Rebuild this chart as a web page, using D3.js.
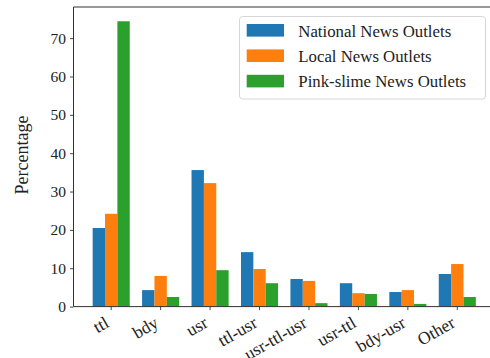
<!DOCTYPE html>
<html>
<head>
<meta charset="utf-8">
<script src="https://cdn.jsdelivr.net/npm/d3@7"></script>
<style>
  html, body { margin: 0; padding: 0; background: #fff; }
  svg { display: block; }
  svg text { font-family: "Liberation Serif", "Times New Roman", serif; fill: #222; }
</style>
</head>
<body>
<svg id="chart" width="490" height="358"></svg>
<script>
// Share of headline-edit types, by outlet group (percent)
const categories = ["ttl", "bdy", "usr", "ttl-usr", "usr-ttl-usr", "usr-ttl", "bdy-usr", "Other"];
const seriesNames = ["National News Outlets", "Local News Outlets", "Pink-slime News Outlets"];
const national = [20.5, 4.3, 35.6, 14.2, 7.2, 6.1, 3.8, 8.5];
const local    = [24.2, 8.0, 32.2, 9.8, 6.7, 3.5, 4.3, 11.1];
const pinkSlime = [74.4, 2.5, 9.5, 6.1, 0.9, 3.3, 0.7, 2.5];
const yTicks = [0, 10, 20, 30, 40, 50, 60, 70];
const colors = ["#1f77b4", "#ff7f0e", "#2ca02c"];

const series = [national, local, pinkSlime];
const svg = d3.select("#chart");
const serif = '"Liberation Serif", "Times New Roman", serif';

const plot = { left: 73.5, right: 495, top: 7, bottom: 306.6 };

const x0 = d3.scaleBand()
  .domain(categories)
  .range([plot.left, plot.right])
  .paddingInner(0.25)
  .paddingOuter(0.3875);

const x1 = d3.scaleBand()
  .domain(seriesNames)
  .range([0, x0.bandwidth()]);

const yMax = d3.max(series.flat()) * 1.05;
const y = d3.scaleLinear().domain([0, yMax]).range([plot.bottom, plot.top]);

// bars
const groups = svg.append("g")
  .selectAll("g")
  .data(categories)
  .join("g")
  .attr("transform", d => `translate(${x0(d)},0)`);

groups.selectAll("rect")
  .data((c, i) => seriesNames.map((s, k) => ({ s, k, v: series[k][i] })))
  .join("rect")
  .attr("x", d => x1(d.s))
  .attr("width", x1.bandwidth())
  .attr("y", d => y(d.v))
  .attr("height", d => y(0) - y(d.v))
  .attr("fill", d => colors[d.k]);

// y axis
const yAxis = svg.append("g")
  .attr("transform", `translate(${plot.left},0)`)
  .call(d3.axisLeft(y).tickValues(yTicks).tickSize(3.5).tickPadding(4).tickFormat(d3.format("d")));
yAxis.select(".domain").remove();
yAxis.selectAll(".tick line").attr("stroke", "#333").attr("stroke-width", 0.9);
yAxis.selectAll(".tick text")
  .style("font-family", serif)
  .style("font-size", "15.5px")
  .style("fill", "#222");

// x axis, labels rotated and right-aligned under each tick
const xAxis = svg.append("g")
  .attr("transform", `translate(0,${plot.bottom})`)
  .call(d3.axisBottom(x0).tickSize(3.5).tickPadding(3));
xAxis.select(".domain").remove();
xAxis.selectAll(".tick line").attr("stroke", "#333").attr("stroke-width", 0.9);
xAxis.selectAll(".tick text")
  .style("font-family", serif)
  .style("font-size", "17.5px")
  .style("fill", "#222")
  .attr("text-anchor", "end")
  .attr("x", 0)
  .attr("y", 0)
  .attr("dy", 0)
  .attr("transform", "translate(-1,19.5) rotate(-30)");

// spines (left, top, bottom)
const spine = svg.append("g").attr("stroke", "#333").attr("stroke-width", 1).attr("fill", "none");
spine.append("line").attr("x1", plot.left).attr("x2", plot.left).attr("y1", plot.top).attr("y2", plot.bottom);
spine.append("line").attr("x1", plot.left).attr("x2", plot.right).attr("y1", plot.top).attr("y2", plot.top);
spine.append("line").attr("x1", plot.left).attr("x2", plot.right).attr("y1", plot.bottom).attr("y2", plot.bottom);

// y label
svg.append("text")
  .attr("transform", `translate(28,155) rotate(-90)`)
  .attr("text-anchor", "middle")
  .style("font-size", "18px")
  .text("Percentage");

// legend
const legend = svg.append("g").attr("transform", "translate(239.5,16.5)");
legend.append("rect")
  .attr("width", 246)
  .attr("height", 82.5)
  .attr("rx", 3)
  .attr("fill", "#fff")
  .attr("fill-opacity", 0.8)
  .attr("stroke", "#d6d6d6")
  .attr("stroke-width", 1);
const items = legend.selectAll("g.item")
  .data(seriesNames)
  .join("g")
  .attr("class", "item")
  .attr("transform", (d, i) => `translate(0,${13.8 + i * 25.4})`);
items.append("rect")
  .attr("x", 7.2)
  .attr("y", -6.3)
  .attr("width", 37.3)
  .attr("height", 12.6)
  .attr("fill", (d, i) => colors[i]);
items.append("text")
  .attr("x", 58.8)
  .attr("y", 6.3)
  .style("font-size", "16.8px")
  .text(d => d);
</script>
</body>
</html>
